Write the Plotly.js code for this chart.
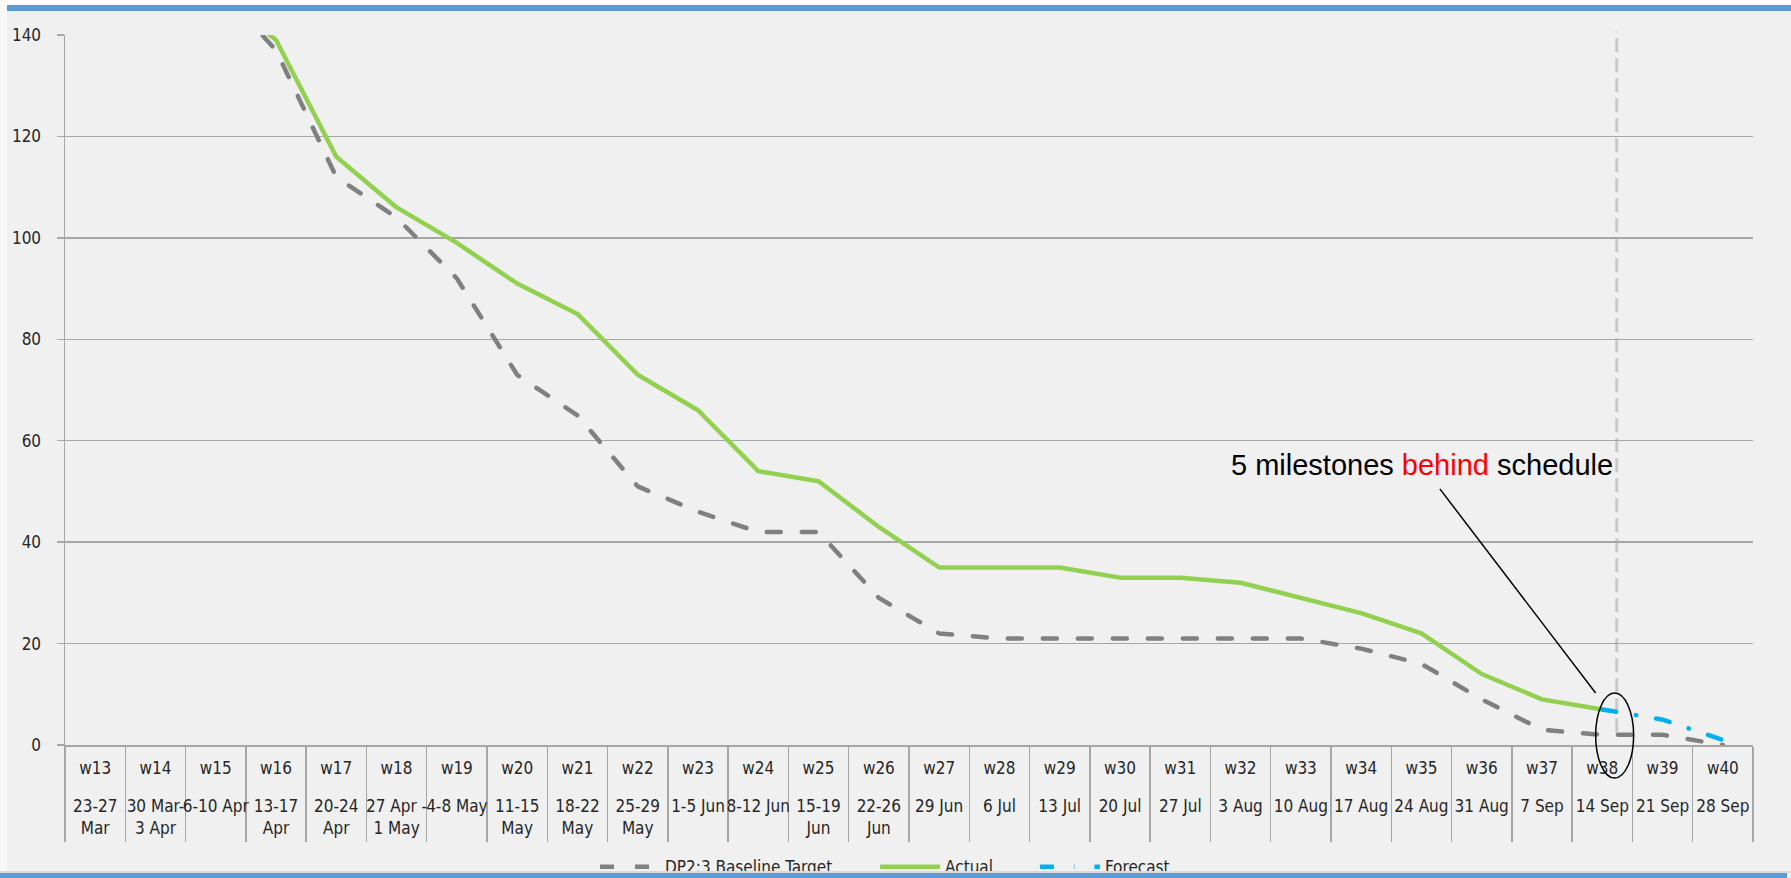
<!DOCTYPE html>
<html>
<head>
<meta charset="utf-8">
<script src="https://cdn.plot.ly/plotly-3.0.1.min.js"></script>
<style>
html,body{margin:0;padding:0;background:#f0f0f0;overflow:hidden;}
#wrap{position:relative;width:1791px;height:878px;}
#chart{position:absolute;left:0;top:0;width:1791px;height:878px;}
.bar{position:absolute;z-index:10;}
.scatterlayer .js-line{stroke-linecap:round;stroke-linejoin:round;}
</style>
</head>
<body>
<div id="wrap">
  <div id="chart"></div>
  <div class="bar" style="left:0;top:0;width:1791px;height:5px;background:#fbfbfb"></div>
  <div class="bar" style="left:7px;top:5px;width:1784px;height:6px;background:#5b9bd5"></div>
  <div class="bar" style="left:0;top:0;width:7px;height:871px;background:#f8f8f8"></div>
  <div class="bar" style="left:0;top:871px;width:1791px;height:2px;background:#dadada"></div>
  <div class="bar" style="left:0;top:873px;width:1787px;height:5px;background:#5b9bd5"></div>
</div>
<script>
// ---------- data ----------
const weeks = ['w13','w14','w15','w16','w17','w18','w19','w20','w21','w22','w23','w24','w25','w26',
               'w27','w28','w29','w30','w31','w32','w33','w34','w35','w36','w37','w38','w39','w40'];
const dateLabels = ['23-27<br>Mar','30 Mar-<br>3 Apr','6-10 Apr','13-17<br>Apr','20-24<br>Apr','27 Apr -<br>1 May',
                    '4-8 May','11-15<br>May','18-22<br>May','25-29<br>May','1-5 Jun','8-12 Jun','15-19<br>Jun',
                    '22-26<br>Jun','29 Jun','6 Jul','13 Jul','20 Jul','27 Jul','3 Aug','10 Aug','17 Aug',
                    '24 Aug','31 Aug','7 Sep','14 Sep','21 Sep','28 Sep'];
const baselineTarget = [null,null,150,137,112,104,92,73,65,51,46,42,42,29,22,21,21,21,21,21,21,19,16,9,3,2,2,0];
const actual        = [null,null,149,139,116,106,99,91,85,73,66,54,52,43,35,35,35,33,33,32,29,26,22,14,9,7,null,null];
const forecast      = [null,null,null,null,null,null,null,null,null,null,null,null,null,null,
                       null,null,null,null,null,null,null,null,null,null,null,7,5,1];
const yTicks = [0,20,40,60,80,100,120,140];
const statusWeek = 'w38';
const calloutText = '5 milestones <span style="color:#ff0000">behind</span> schedule';

// ---------- styling ----------
const narrow = '"Liberation Sans Narrow", "Arial Narrow", "DejaVu Sans Condensed", sans-serif';
const arial = '"Liberation Sans", Arial, sans-serif';
const fs = 17;
const gridGrey = '#a6a6a6';
const txt = '#262626';
const statusIdx = weeks.indexOf(statusWeek);

const traces = [
  {x: weeks, y: baselineTarget, type:'scatter', mode:'lines', name:'DP2:3 Baseline Target',
   line:{color:'#808080', width:4.5, dash:'14px,21px'}, legend:'legend', hoverinfo:'skip'},
  {x: weeks, y: actual, type:'scatter', mode:'lines', name:'Actual',
   line:{color:'#92d050', width:4.5}, legend:'legend2', hoverinfo:'skip'},
  {x: weeks, y: forecast, xaxis:'x2', type:'scatter', mode:'lines', name:'Forecast',
   line:{color:'#00b0f0', width:4.5, dash:'14px,20px,0.5px,20px'}, legend:'legend3', hoverinfo:'skip'}
];

const legendBase = {orientation:'h', xanchor:'left', yanchor:'middle', y:-0.172,
  bgcolor:'rgba(0,0,0,0)', borderwidth:0, itemwidth:60,
  font:{family:narrow, size:fs, color:txt}};

const layout = {
  width:1791, height:878,
  margin:{l:65, r:38, t:35, b:133, pad:0, autoexpand:false},
  paper_bgcolor:'#f0f0f0', plot_bgcolor:'#f0f0f0',
  font:{family:narrow, size:fs, color:txt},
  showlegend:true,
  xaxis:{type:'category', categoryorder:'array', categoryarray:weeks,
    range:[-0.5, weeks.length-0.5], automargin:false, tickangle:0,
    showline:true, linecolor:gridGrey, linewidth:1.5,
    ticks:'outside', tickson:'boundaries', ticklen:95, tickwidth:1.5, tickcolor:gridGrey,
    showgrid:false, zeroline:false, ticklabelstandoff:7,
    tickfont:{family:narrow, size:fs, color:txt}, fixedrange:true},
  xaxis2:{type:'category', overlaying:'x', side:'bottom', anchor:'y',
    categoryorder:'array', categoryarray:weeks, automargin:false, tickangle:0,
    range:[-0.5, weeks.length-0.5], tickmode:'array',
    tickvals: weeks, ticktext: dateLabels,
    ticks:'', showline:false, showgrid:false, zeroline:false, ticklabelstandoff:49,
    tickfont:{family:narrow, size:fs, color:txt}, fixedrange:true},
  yaxis:{range:[0,140], tickmode:'array', tickvals:yTicks, automargin:false,
    showgrid:true, gridcolor:gridGrey, gridwidth:1.5,
    showline:true, linecolor:gridGrey, linewidth:1.5,
    ticks:'outside', ticklen:7, tickwidth:1.5, tickcolor:gridGrey,
    zeroline:false, ticklabelstandoff:12,
    tickfont:{family:narrow, size:fs, color:txt}, fixedrange:true},
  legend: Object.assign({}, legendBase, {x:0.314}),
  legend2: Object.assign({}, legendBase, {x:0.4799}),
  legend3: Object.assign({}, legendBase, {x:0.5746}),
  shapes:[
    {type:'line', xref:'x', yref:'paper', x0:statusIdx+0.24, x1:statusIdx+0.24, y0:0.018, y1:1.005,
     line:{color:'#c8c8c8', width:3, dash:'14px,6px'}, layer:'below'},
    {type:'circle', xref:'x', yref:'paper', x0:statusIdx-0.11, x1:statusIdx+0.52, y0:-0.0465, y1:0.0732,
     line:{color:'#000000', width:1.5}, layer:'above'}
  ],
  annotations:[
    {xref:'x', yref:'y', x:statusIdx-0.11, y:10.25, text:calloutText,
     showarrow:true, arrowhead:0, arrowwidth:1.5, arrowcolor:'#000000',
     ax:-174, ay:-228, startstandoff:8,
     font:{family:arial, size:29, color:'#000000'}}
  ]
};

Plotly.newPlot('chart', traces, layout, {displayModeBar:false, staticPlot:true});
</script>
</body>
</html>
